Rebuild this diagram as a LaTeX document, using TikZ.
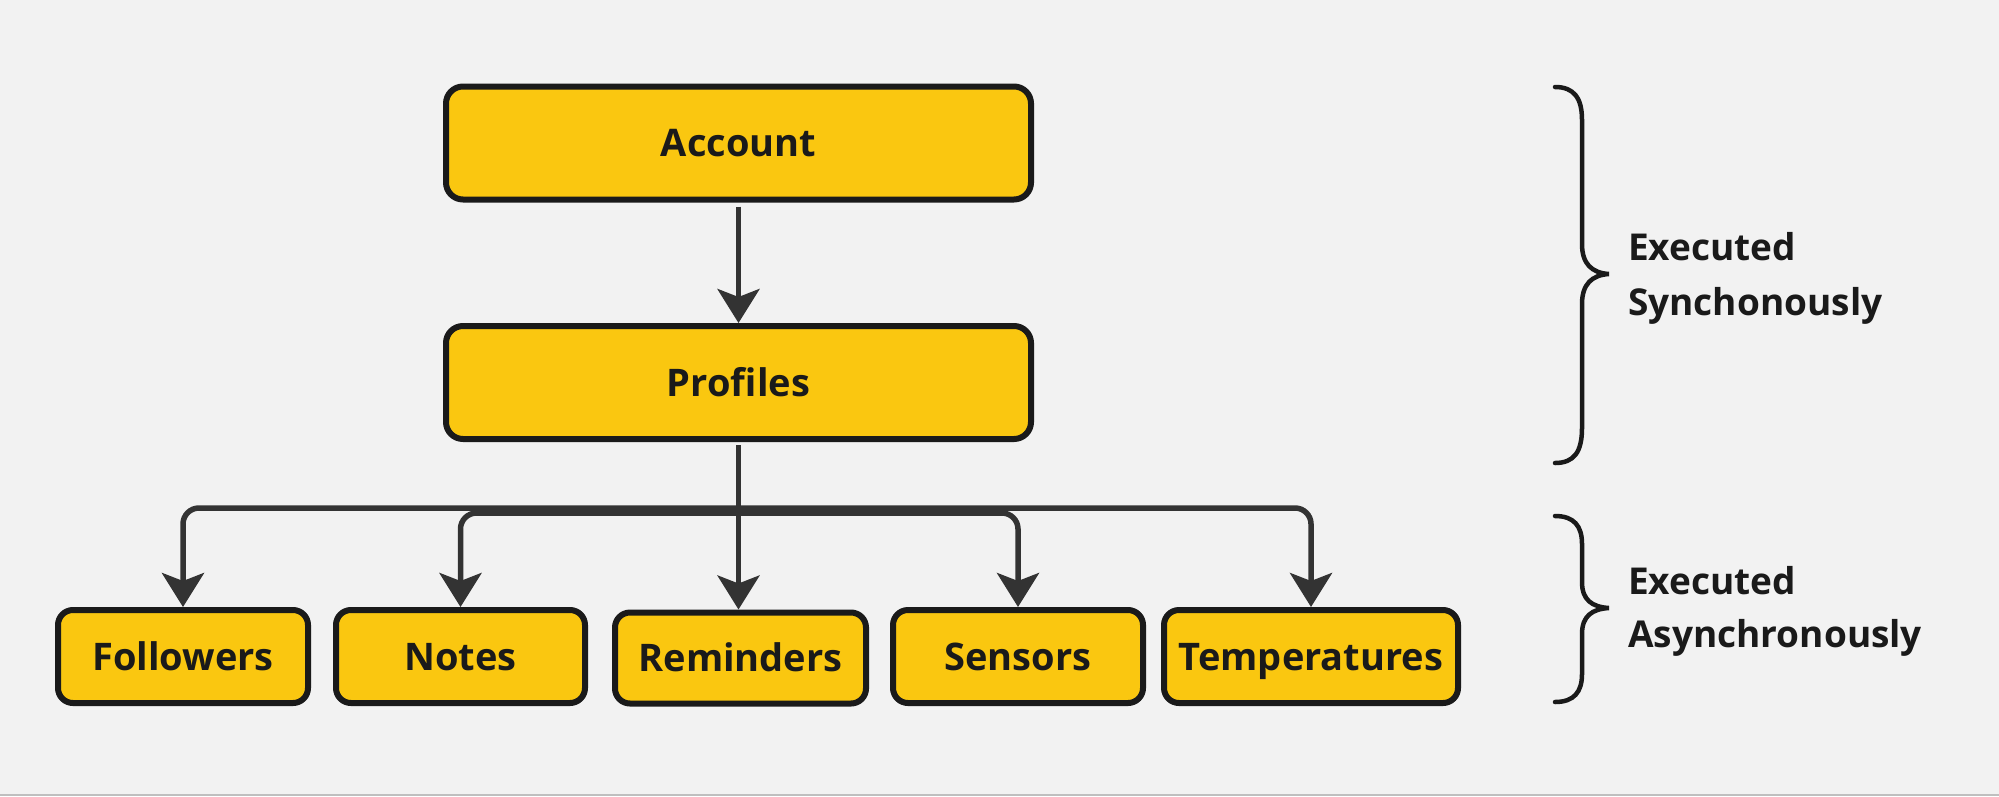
\documentclass[tikz,border=0pt]{standalone}
\usepackage{fontspec}
\setmainfont{Open Sans}
\usetikzlibrary{arrows.meta}
\definecolor{bg}{HTML}{F2F2F2}
\definecolor{boxfill}{HTML}{FAC710}
\definecolor{boxline}{HTML}{1A1A1A}
\definecolor{conncol}{HTML}{333333}
\definecolor{txt}{HTML}{1A1A1A}
\tikzset{
  box/.style={draw=boxline, fill=boxfill, line width=6pt, rounded corners=17pt,
    font=\fontsize{38}{44}\selectfont\bfseries, text=txt, inner sep=0pt,
    text height=27pt, text depth=0pt},
  bigbox/.style={box, minimum width=585pt, minimum height=113pt},
  smallbox/.style={box, rounded corners=15pt, minimum height=93pt},
  conn/.style={draw=conncol, line width=5.5pt},
  arr/.style={conn, -{Stealth[length=34pt,width=42pt,inset=8pt]}},
  brace/.style={draw=boxline, line width=4.5pt, line cap=round},
  side/.style={font=\fontsize{37}{42}\selectfont\bfseries, text=txt, anchor=base west, inner sep=0pt}
}
\begin{document}
\begin{tikzpicture}[x=1pt,y=-1pt]
\useasboundingbox (0,0) rectangle (1999,796);
\fill[bg] (0,0) rectangle (1999,796);
\fill[black!25] (0,794) rectangle (1999,796);

\node[bigbox] (acc) at (738.5,143) {Account};
\node[bigbox] (prof) at (738.5,382.5) {Profiles};

\node[smallbox, minimum width=250pt] (fol) at (183,656.5) {Followers};
\node[smallbox, minimum width=249pt] (not) at (460.5,656.5) {Notes};
\node[smallbox, minimum width=251pt, minimum height=91pt] (rem) at (740.5,658) {Reminders};
\node[smallbox, minimum width=250pt] (sen) at (1018,656.5) {Sensors};
\node[smallbox, minimum width=294pt] (tem) at (1311,656.5) {Temperatures};

\draw[arr, shorten <=4pt] (acc) -- (prof);

\draw[arr, shorten <=3pt] (prof.south) -- (prof.south |- rem.north);
\draw[arr, rounded corners=16pt] ([yshift=-66pt]prof.south) -| (fol.north);
\draw[arr, rounded corners=16pt] ([yshift=-66pt]prof.south) -| (tem.north);
\draw[arr, rounded corners=16pt] ([yshift=-71pt]prof.south) -| (not.north);
\draw[arr, rounded corners=16pt] ([yshift=-71pt]prof.south) -| (sen.north);

\draw[brace] (1555,87) .. controls (1574,87) and (1582,98) .. (1582,120)
  -- (1582,244) .. controls (1582,264) and (1592,273) .. (1609,274)
  .. controls (1592,275) and (1582,284) .. (1582,304)
  -- (1582,428) .. controls (1582,452) and (1574,463) .. (1555,463);
\draw[brace] (1555,516) .. controls (1574,516) and (1582,526) .. (1582,544)
  -- (1582,582) .. controls (1582,600) and (1592,607) .. (1609,608)
  .. controls (1592,609) and (1582,616) .. (1582,634)
  -- (1582,674) .. controls (1582,692) and (1574,702) .. (1555,702);

\node[side] (s1) at (1628,260) {Executed};
\node[side] (s2) at (1628,315) {Synchonously};
\node[side] (a1) at (1628,594) {Executed};
\node[side] (a2) at (1628,647) {Asynchronously};
\end{tikzpicture}
\end{document}
